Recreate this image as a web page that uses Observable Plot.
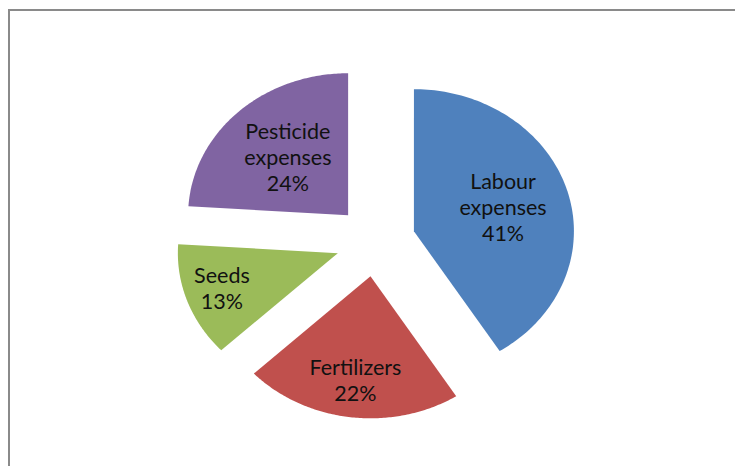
<!DOCTYPE html>
<html>
<head>
<meta charset="utf-8">
<script src="https://cdn.jsdelivr.net/npm/d3@7"></script>
<script src="https://cdn.jsdelivr.net/npm/@observablehq/plot@0.6"></script>
<style>
  html, body { margin: 0; padding: 0; background: #fff; }
  #wrap { position: relative; width: 735px; height: 466px; overflow: hidden; }
  #border { position: absolute; left: 8px; top: 9px; width: 760px; height: 500px;
            border-left: 2px solid #8a8a8a; border-top: 2px solid #8a8a8a; box-sizing: border-box; }
  #chart { position: absolute; left: 0; top: 0; }
</style>
</head>
<body>
<div id="wrap"><div id="chart"></div><div id="border"></div></div>
<script>
// ---- data ----
const categories = ["Labour expenses", "Fertilizers", "Seeds", "Pesticide expenses"];
const labelLines = [["Labour", "expenses"], ["Fertilizers"], ["Seeds"], ["Pesticide", "expenses"]];
const percentages = [41, 22, 13, 24];
const colors = ["#4F81BD", "#C0504D", "#9BBB59", "#8064A2"];

// ---- geometry (unit pie, mapped by scales) ----
const explode = 0.25;
const labelRadius = [0.58, 0.75, 0.77, 0.55];
const pie = d3.pie().sort(null).value(d => d.value).startAngle(0).endAngle(2 * Math.PI);
const arcs = pie(categories.map((c, i) => ({key: c, value: percentages[i], i})));

const slicePoints = [];
const labels = [];
arcs.forEach(a => {
  const mid = (a.startAngle + a.endAngle) / 2;
  const ox = explode * Math.sin(mid), oy = explode * Math.cos(mid);
  slicePoints.push({key: a.data.key, x: ox, y: oy});
  const n = 120;
  for (let k = 0; k <= n; k++) {
    const t = a.startAngle + (a.endAngle - a.startAngle) * k / n;
    slicePoints.push({key: a.data.key, x: ox + Math.sin(t), y: oy + Math.cos(t)});
  }
  slicePoints.push({key: a.data.key, x: ox, y: oy});
  const r = labelRadius[a.data.i];
  labels.push({
    x: ox + r * Math.sin(mid),
    y: oy + r * Math.cos(mid),
    text: labelLines[a.data.i].join("\n") + "\n" + a.data.value + "%"
  });
});

const cx = 375, cy = 240.6, rx = 160, ry = 142;
const chart = Plot.plot({
  width: 735,
  height: 466,
  margin: 0,
  style: {background: "transparent", fontFamily: "Lato, 'Open Sans', sans-serif"},
  x: {domain: [-1, 1], range: [cx - rx, cx + rx], axis: null},
  y: {domain: [-1, 1], range: [cy + ry, cy - ry], axis: null},
  color: {domain: categories, range: colors},
  marks: [
    Plot.line(slicePoints, {x: "x", y: "y", z: "key", fill: "key", stroke: "none", curve: "linear"}),
    Plot.text(labels, {x: "x", y: "y", text: "text", fontSize: 21.5, lineHeight: 1.21, fill: "#111", lineAnchor: "middle", dy: -2})
  ]
});
document.getElementById("chart").appendChild(chart);
</script>
</body>
</html>
